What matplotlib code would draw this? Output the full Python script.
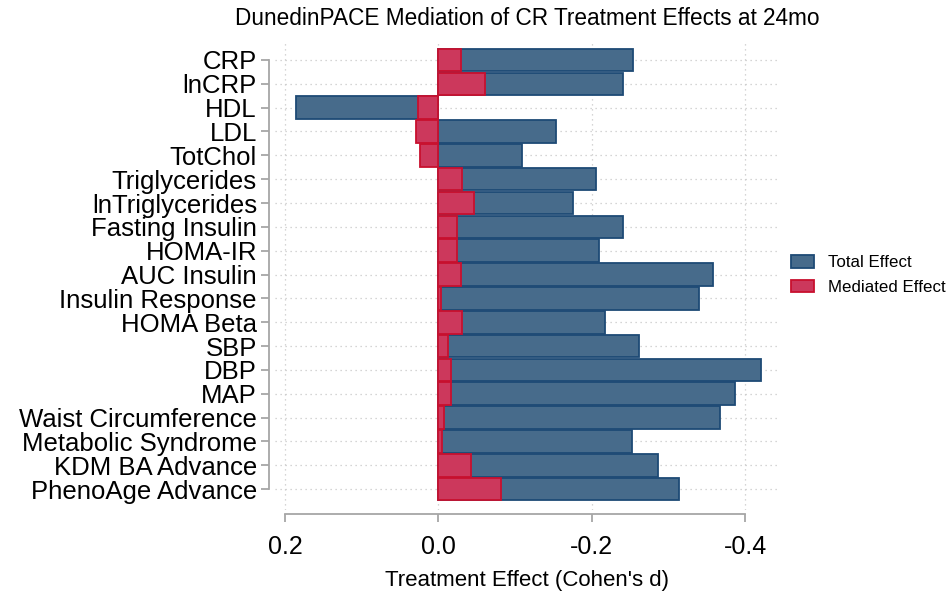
#!/usr/bin/env python3
"""DunedinPACE mediation of CR treatment effects - horizontal bar chart."""

import matplotlib
matplotlib.use('Agg')
import matplotlib.pyplot as plt
from matplotlib.patches import Patch

plt.rcParams['font.family'] = ['Liberation Sans', 'DejaVu Sans']

OUTCOMES = [
    'CRP', 'lnCRP', 'HDL', 'LDL', 'TotChol', 'Triglycerides', 'lnTriglycerides',
    'Fasting Insulin', 'HOMA-IR', 'AUC Insulin', 'Insulin Response', 'HOMA Beta',
    'SBP', 'DBP', 'MAP', 'Waist Circumference', 'Metabolic Syndrome',
    'KDM BA Advance', 'PhenoAge Advance',
]

# Cohen's d
TOTAL_EFFECT = [
    -0.254, -0.241, 0.186, -0.153, -0.109, -0.205, -0.176,
    -0.241, -0.209, -0.358, -0.340, -0.217,
    -0.262, -0.421, -0.387, -0.367, -0.253,
    -0.287, -0.314,
]
MEDIATED_EFFECT = [
    -0.030, -0.061, 0.027, 0.029, 0.024, -0.031, -0.046,
    -0.024, -0.024, -0.030, -0.003, -0.031,
    -0.012, -0.017, -0.016, -0.007, -0.005,
    -0.042, -0.082,
]

XTICKS = [0.2, 0.0, -0.2, -0.4]

BLUE_FILL, BLUE_EDGE = '#476b8b', '#1e4a75'
RED_FILL, RED_EDGE = '#cc385c', '#c8102e'
SPINE = '#a6a6a6'


def main():
    fig = plt.figure(figsize=(9.53, 5.92), dpi=100)
    ax = fig.add_axes([275 / 953, 1 - 510 / 592, 505 / 953, 467 / 592])

    pos = list(range(len(OUTCOMES)))
    ax.barh(pos, TOTAL_EFFECT, height=0.95, color=BLUE_FILL,
            edgecolor=BLUE_EDGE, linewidth=1.3, zorder=2)
    ax.barh(pos, MEDIATED_EFFECT, height=0.95, color=RED_FILL,
            edgecolor=RED_EDGE, linewidth=1.3, zorder=3)

    ax.set_xlim(0.2129, -0.4455)
    ax.set_ylim(18.88, -0.713)

    ax.set_yticks(pos)
    ax.set_yticklabels(OUTCOMES)
    ax.set_xticks(XTICKS)
    ax.set_xticklabels([f'{t:.1f}' for t in XTICKS])

    ax.tick_params(axis='both', colors=SPINE, labelcolor='black',
                   length=6, width=1.3)
    ax.tick_params(axis='y', pad=3, labelsize=18.5)
    ax.tick_params(axis='x', pad=9, labelsize=18)

    for side in ('top', 'right'):
        ax.spines[side].set_visible(False)
    ax.spines['left'].set_position(('outward', 4))
    ax.spines['bottom'].set_position(('outward', 3))
    ax.spines['left'].set_bounds(0, len(OUTCOMES) - 1)
    ax.spines['bottom'].set_bounds(0.2, -0.4)
    for side in ('left', 'bottom'):
        ax.spines[side].set_color(SPINE)
        ax.spines[side].set_linewidth(1.3)

    ax.grid(True, linestyle=(0, (1, 3)), color='#c8c8c8', linewidth=0.9, zorder=0)
    ax.set_axisbelow(True)

    ax.set_xlabel("Treatment Effect (Cohen's d)", fontsize=16, labelpad=8)
    ax.set_title('DunedinPACE Mediation of CR Treatment Effects at 24mo',
                 fontsize=16.3, pad=13)

    handles = [
        Patch(facecolor=BLUE_FILL, edgecolor=BLUE_EDGE, linewidth=1.3, label='Total Effect'),
        Patch(facecolor=RED_FILL, edgecolor=RED_EDGE, linewidth=1.3, label='Mediated Effect'),
    ]
    fig.legend(handles=handles, loc='center left', bbox_to_anchor=(0.8135, 0.5355),
               frameon=False, fontsize=12.2, handlelength=1.4, handleheight=0.75,
               handletextpad=0.8, labelspacing=0.55)

    fig.savefig('out.png', dpi=100, facecolor='white')
    plt.close(fig)


if __name__ == '__main__':
    main()
